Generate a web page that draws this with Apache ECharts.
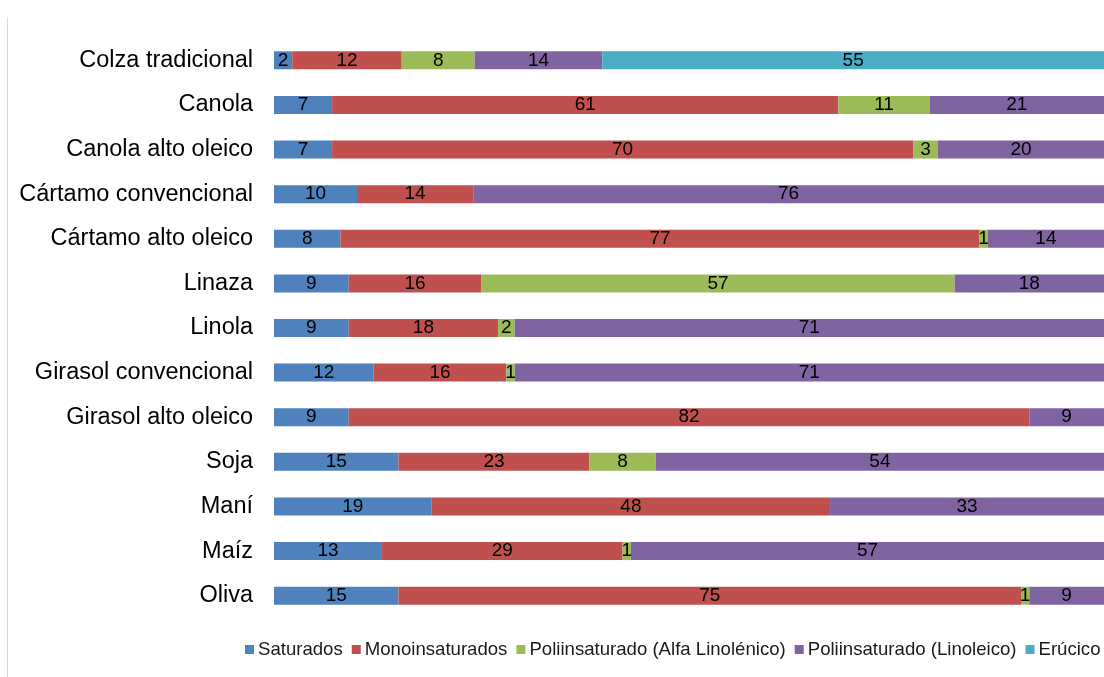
<!DOCTYPE html>
<html>
<head>
<meta charset="utf-8">
<script src="https://cdn.jsdelivr.net/npm/echarts@6/dist/echarts.min.js"></script>
<style>
  html, body { margin: 0; padding: 0; background: #fff; }
  #chart { width: 1104px; height: 677px; }
</style>
</head>
<body>
<div id="chart"></div>
<script>
// categories listed bottom to top (category axis on y starts at the bottom)
const categories = ['Oliva', 'Maíz', 'Maní', 'Soja', 'Girasol alto oleico', 'Girasol convencional',
  'Linola', 'Linaza', 'Cártamo alto oleico', 'Cártamo convencional', 'Canola alto oleico',
  'Canola', 'Colza tradicional']
const saturados = [15, 13, 19, 15, 9, 12, 9, 9, 8, 10, 7, 7, 2]
const monoinsaturados = [75, 29, 48, 23, 82, 16, 18, 16, 77, 14, 70, 61, 12]
const alfaLinolenico = [1, 1, null, 8, null, 1, 2, 57, 1, null, 3, 11, 8]
const linoleico = [9, 57, 33, 54, 9, 71, 71, 18, 14, 76, 20, 21, 14]
const erucico = [null, null, null, null, null, null, null, null, null, null, null, null, 55]

const seriesDefs = [
  { name: 'Saturados', data: saturados, color: '#4f81bd' },
  { name: 'Monoinsaturados', data: monoinsaturados, color: '#c0504d' },
  { name: 'Poliinsaturado (Alfa Linolénico)', data: alfaLinolenico, color: '#9bbb59' },
  { name: 'Poliinsaturado (Linoleico)', data: linoleico, color: '#8064a2' },
  { name: 'Erúcico', data: erucico, color: '#4bacc6' }
]

// 100% stacked: each bar is scaled to its own total, the label shows the raw value
const totals = categories.map((c, i) => seriesDefs.reduce((s, d) => s + (d.data[i] || 0), 0))

const chart = echarts.init(document.getElementById('chart'))
chart.setOption({
  animation: false,
  textStyle: { fontFamily: 'Liberation Sans, Arial, sans-serif' },
  graphic: [{
    type: 'line',
    shape: { x1: 7.5, y1: 17, x2: 7.5, y2: 677 },
    style: { stroke: '#d9d9d9', lineWidth: 1 }
  }],
  grid: { left: 274, right: 0, top: 38, bottom: 59 },
  legend: {
    top: 640,
    left: 245,
    width: 860,
    padding: 0,
    itemWidth: 9,
    itemHeight: 9,
    itemGap: 9,
    icon: 'rect',
    textStyle: { fontSize: 18.6, color: '#1a1a1a', padding: [0, 0, 0, -1] },
    data: seriesDefs.map(d => d.name)
  },
  xAxis: {
    type: 'value',
    min: 0,
    max: 100,
    show: false
  },
  yAxis: {
    type: 'category',
    data: categories,
    axisLine: { show: false },
    axisTick: { show: false },
    axisLabel: { fontSize: 23.5, color: '#000', margin: 21 }
  },
  series: seriesDefs.map(d => ({
    name: d.name,
    type: 'bar',
    stack: 'total',
    barWidth: 18,
    itemStyle: { color: d.color },
    data: d.data.map((v, i) => v == null ? null : v / totals[i] * 100),
    label: {
      show: true,
      position: 'inside',
      color: '#000',
      fontSize: 19,
      formatter: p => d.data[p.dataIndex]
    }
  }))
})
</script>
</body>
</html>
